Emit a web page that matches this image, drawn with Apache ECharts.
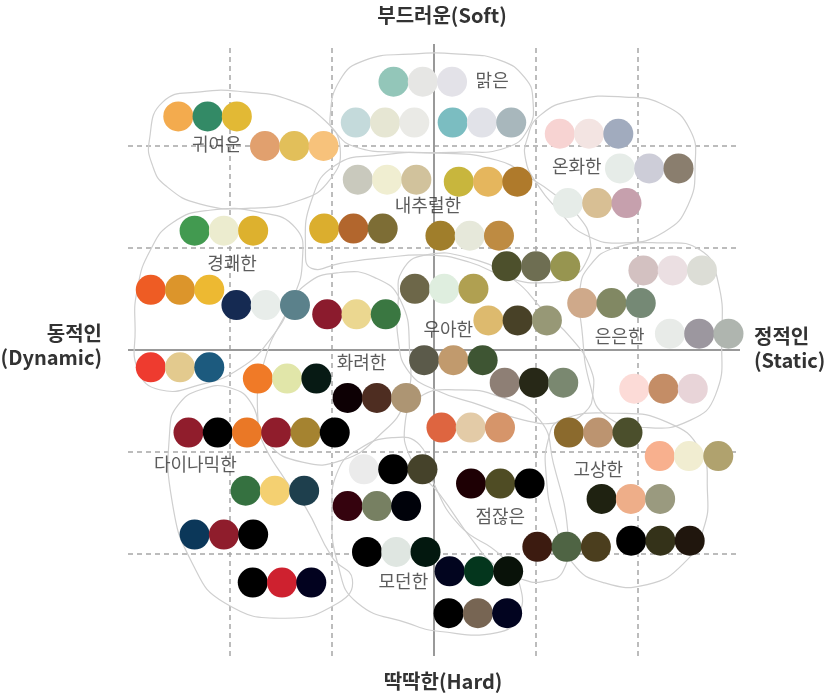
<!DOCTYPE html>
<html>
<head>
<meta charset="utf-8">
<script src="https://cdn.jsdelivr.net/npm/echarts@6/dist/echarts.min.js"></script>
<style>
html, body { margin: 0; padding: 0; background: #fff; }
#chart { width: 828px; height: 695px; }
</style>
</head>
<body>
<div id="chart"></div>
<script>
// image scale: x = 동적(-) .. 정적(+), y = 딱딱한(-) .. 부드러운(+)
const gridTicks = [-2, -1, 1, 2]

// centre of each row of three colour chips
const rowCenters = [
	[-2.22, 2.29], [-1.37, 2.00], [-0.11, 2.63], [-0.48, 2.23], [0.47, 2.23],
	[-0.46, 1.67], [0.53, 1.65], [-0.79, 1.19], [0.35, 1.12], [1.52, 2.12],
	[2.11, 1.78], [1.60, 1.44], [-2.06, 1.17], [-2.49, 0.59], [-1.65, 0.44],
	[-0.76, 0.35], [0.10, 0.60], [-2.49, -0.17], [-1.44, -0.28], [-0.56, -0.47],
	[-2.12, -0.81], [-1.26, -0.81], [1.00, 0.82], [2.34, 0.78], [1.74, 0.46],
	[0.82, 0.29], [2.60, 0.16], [0.19, -0.10], [0.98, -0.32], [2.25, -0.38],
	[0.36, -0.76], [1.61, -0.81], [2.50, -1.04], [0.65, -1.31], [1.93, -1.46],
	[1.30, -1.93], [2.22, -1.87], [0.44, -2.17], [0.43, -2.58], [-1.56, -1.38],
	[-2.06, -1.81], [-1.49, -2.28], [-0.40, -1.17], [-0.56, -1.53], [-0.37, -1.98]
]

const rowColors = [
	['#F3AB4E', '#338A66', '#E2B935'], ['#E1A06E', '#E2BF5A', '#F7C27B'],
	['#93C6B9', '#E6E6E4', '#E3E2E8'], ['#C4DADB', '#E6E6D3', '#EAEAE6'],
	['#7BBDC1', '#E1E2E8', '#A8B7BC'], ['#C9C9BD', '#F0EED1', '#D1C29C'],
	['#C8B63D', '#E5B65D', '#AF7A2B'], ['#DBAE2E', '#B2662D', '#7D6D35'],
	['#A07E2B', '#E6E8DA', '#BE8B42'], ['#F7D3D2', '#F3E4E2', '#A1ABBE'],
	['#E6ECE8', '#CDCDD8', '#8A7E6E'], ['#E6ECE8', '#D8BF94', '#C6A0AD'],
	['#429A50', '#ECECCF', '#DDB12E'], ['#EE5C24', '#DC952B', '#EDB932'],
	['#152A52', '#E8EDEA', '#5B818B'], ['#8B1B2D', '#EBD790', '#3A7741'],
	['#6D6749', '#DFEEDF', '#B0A051'], ['#EE3B2F', '#E3CA8E', '#1C5A7E'],
	['#F07A27', '#E1E6A9', '#071A14'], ['#0D0004', '#4E2D21', '#AD9573'],
	['#901D2C', '#000000', '#EA7826'], ['#901D2C', '#A58330', '#000000'],
	['#4D502C', '#6E6E52', '#979550'], ['#D3C1C1', '#EBDFE2', '#DCDDD6'],
	['#CFA98A', '#818863', '#758975'], ['#DDBA6E', '#484127', '#979876'],
	['#E8EBE8', '#9C979F', '#AFB5AF'], ['#5B5A4A', '#C19A6D', '#3E5533'],
	['#8E7F75', '#272817', '#7A8870'], ['#FCDBD7', '#C48D66', '#E8D4D8'],
	['#DE6540', '#E3CBA7', '#D6956A'], ['#8B6A2D', '#BC9470', '#4B4F2C'],
	['#F8B08E', '#F1EDD1', '#B0A26E'], ['#1E0004', '#4F4C24', '#000000'],
	['#1F2211', '#EEAE89', '#9A9A7F'], ['#3C1B10', '#4F6444', '#4B3E1E'],
	['#000000', '#343219', '#20160D'], ['#02051F', '#04361D', '#091209'],
	['#000000', '#776553', '#020420'], ['#357140', '#F4D071', '#1E3F4D'],
	['#0B3759', '#8F1D2C', '#000000'], ['#000000', '#CE212F', '#02021F'],
	['#EBEBEB', '#000000', '#45422A'], ['#35030E', '#778062', '#00020A'],
	['#000000', '#DFE6E1', '#03180F']
]

const groupNames = ['귀여운', '맑은', '내추럴한', '온화한', '경쾌한', '우아한',
	'은은한', '화려한', '다이나믹한', '고상한', '점잖은', '모던한']
const groupLabelPos = [
	[-2.13, 2.02], [0.57, 2.65], [-0.06, 1.42], [1.40, 1.80], [-1.98, 0.85], [0.14, 0.20],
	[1.82, 0.14], [-0.71, -0.12], [-2.34, -1.12], [1.61, -1.17], [0.65, -1.63], [-0.30, -2.27]
]

// outlines around each image group
const blobXs = [
	[-2.79, -2.66, -2.29, -1.85, -1.41, -1.07, -0.92, -1.02, -1.31, -1.80, -2.29, -2.63, -2.76],
	[-1.02, -0.92, -0.68, -0.24, 0.25, 0.65, 0.89, 0.97, 0.92, 0.70, 0.25, -0.33, -0.77, -0.97],
	[0.91, 1.04, 1.38, 1.87, 2.26, 2.51, 2.56, 2.49, 2.26, 1.87, 1.48, 1.22, 0.99, 0.90],
	[-1.26, -1.20, -0.97, -0.53, 0.06, 0.62, 0.94, 1.19, 1.41, 1.53, 1.49, 1.35, 1.09, 0.75, 0.35, -0.04, -0.53, -0.92, -1.20],
	[-2.93, -2.91, -2.78, -2.56, -2.20, -1.71, -1.36, -1.29, -1.39, -1.61, -1.90, -2.29, -2.69, -2.90],
	[-1.73, -1.66, -1.46, -1.26, -0.92, -0.58, -0.33, -0.24, -0.28, -0.55, -0.90, -1.29, -1.63],
	[-0.35, -0.31, -0.09, 0.35, 0.78, 1.07, 1.36, 1.53, 1.56, 1.48, 1.24, 0.89, 0.45, 0.01, -0.25, -0.35],
	[1.53, 1.77, 2.22, 2.61, 2.78, 2.82, 2.76, 2.51, 2.07, 1.68, 1.53, 1.45, 1.43],
	[-2.59, -2.51, -2.29, -2.00, -1.78, -1.69, -1.46, -1.26, -1.00, -0.80, -0.94, -1.46, -2.05, -2.37, -2.57],
	[-1.00, -0.94, -0.75, -0.41, -0.14, -0.02, 0.25, 0.65, 0.84, 0.82, 0.62, 0.06, -0.25, -0.75, -0.94],
	[-0.28, -0.14, 0.21, 0.65, 1.04, 1.17, 1.31, 1.27, 1.07, 0.84, 0.62, 0.38, 0.06, -0.22],
	[1.12, 1.24, 1.79, 2.29, 2.61, 2.68, 2.64, 2.45, 2.09, 1.66, 1.36, 1.18, 1.10]
]
const blobYs = [
	[2.06, 2.43, 2.53, 2.53, 2.45, 2.25, 1.98, 1.67, 1.47, 1.39, 1.43, 1.61, 1.81],
	[2.27, 2.65, 2.84, 2.90, 2.90, 2.84, 2.67, 2.45, 2.16, 1.98, 1.94, 1.94, 1.99, 2.14],
	[2.06, 2.30, 2.45, 2.48, 2.40, 2.16, 1.81, 1.42, 1.16, 1.05, 1.13, 1.37, 1.66, 1.86],
	[0.98, 1.47, 1.81, 1.91, 1.93, 1.86, 1.69, 1.52, 1.32, 1.08, 0.86, 0.72, 0.66, 0.70, 0.86, 0.93, 0.90, 0.85, 0.80],
	[0.20, 0.59, 0.98, 1.25, 1.37, 1.35, 1.20, 0.88, 0.49, 0.10, -0.18, -0.34, -0.39, -0.20],
	[-0.59, -0.10, 0.34, 0.64, 0.76, 0.71, 0.49, 0.00, -0.49, -0.85, -1.08, -1.10, -0.91],
	[0.49, 0.78, 0.93, 0.90, 0.69, 0.39, 0.10, -0.17, -0.41, -0.61, -0.71, -0.69, -0.54, -0.39, -0.21, 0.10],
	[0.83, 1.00, 1.05, 0.98, 0.69, 0.10, -0.44, -0.69, -0.76, -0.64, -0.34, 0.20, 0.59],
	[-0.78, -0.54, -0.39, -0.37, -0.54, -0.88, -1.27, -1.54, -2.03, -2.25, -2.48, -2.63, -2.48, -2.09, -1.47],
	[-1.57, -1.18, -0.98, -0.86, -0.93, -1.27, -1.72, -2.01, -2.30, -2.62, -2.77, -2.76, -2.68, -2.48, -2.11],
	[-0.69, -0.46, -0.39, -0.46, -0.69, -1.11, -1.76, -2.16, -2.27, -2.24, -2.13, -1.87, -1.42, -1.08],
	[-0.88, -0.69, -0.62, -0.71, -0.98, -1.37, -1.76, -2.09, -2.30, -2.28, -2.09, -1.67, -1.23]
]

const chipStep = 0.287
const font = '"Noto Sans CJK KR", "Noto Sans", sans-serif'
const titleFont = 'bold 20px ' + font

const chips = []
rowCenters.forEach((c, i) => {
	rowColors[i].forEach((color, k) => {
		chips.push({ value: [c[0] + (k - 1) * chipStep, c[1]], itemStyle: { color } })
	})
})

const blobs = blobXs.map((xs, i) => xs.map((x, j) => [x, blobYs[i][j]]))

const node = document.getElementById('chart')
const myChart = echarts.init(node)

const option = {
	animation: false,
	grid: { left: 128, top: 44, width: 612, height: 612 },
	xAxis: {
		type: 'value', min: -3, max: 3, interval: 1,
		axisLine: { show: false }, axisTick: { show: false },
		axisLabel: { show: false }, splitLine: { show: false }
	},
	yAxis: {
		type: 'value', min: -3, max: 3, interval: 1,
		axisLine: { show: false }, axisTick: { show: false },
		axisLabel: { show: false }, splitLine: { show: false }
	},
	graphic: [
		{ type: 'text', x: 442, y: 5, style: { text: '부드러운(Soft)', font: titleFont, fill: '#333', align: 'center' } },
		{ type: 'text', x: 443, y: 671, style: { text: '딱딱한(Hard)', font: titleFont, fill: '#333', align: 'center' } },
		{ type: 'text', x: 102, y: 321, style: { text: '동적인\n(Dynamic)', font: titleFont, fill: '#333', align: 'right', lineHeight: 24 } },
		{ type: 'text', x: 754, y: 324, style: { text: '정적인\n(Static)', font: titleFont, fill: '#333', align: 'left', lineHeight: 24 } }
	],
	series: [
		{
			// grid guides, kept under the chips
			type: 'line',
			z: 0,
			silent: true,
			data: [],
			markLine: {
				silent: true,
				z: 0,
				symbol: ['none', 'none'],
				label: { show: false },
				lineStyle: { color: '#a6a6a6', width: 1.5, type: [5, 4] },
				data: gridTicks.map(v => ({ xAxis: v })).concat(gridTicks.map(v => ({ yAxis: v }))).concat([
					{ xAxis: 0, lineStyle: { type: 'solid', color: '#999', width: 2 } },
					{ yAxis: 0, lineStyle: { type: 'solid', color: '#999', width: 2 } }
				])
			}
		},
		{
			type: 'custom',
			silent: true,
			z: 1,
			data: blobs.map(b => b[0]),
			renderItem: (params, api) => ({
				type: 'polygon',
				shape: { points: blobs[params.dataIndex].map(p => api.coord(p)), smooth: 0.5 },
				style: { fill: 'none', stroke: '#cfcfcf', lineWidth: 1.2 }
			})
		},
		{
			type: 'scatter',
			z: 3,
			symbol: 'circle',
			symbolSize: 30,
			silent: true,
			itemStyle: { opacity: 1 },
			data: chips
		},
		{
			type: 'scatter',
			z: 5,
			symbolSize: 2,
			silent: true,
			itemStyle: { color: 'rgba(0,0,0,0)' },
			label: {
				show: true, position: 'inside', formatter: '{b}',
				fontFamily: font, fontSize: 18, color: '#333'
			},
			labelLayout: { hideOverlap: false },
			data: groupNames.map((name, i) => ({ name, value: groupLabelPos[i] }))
		}
	]
}

myChart.setOption(option)
</script>
</body>
</html>
